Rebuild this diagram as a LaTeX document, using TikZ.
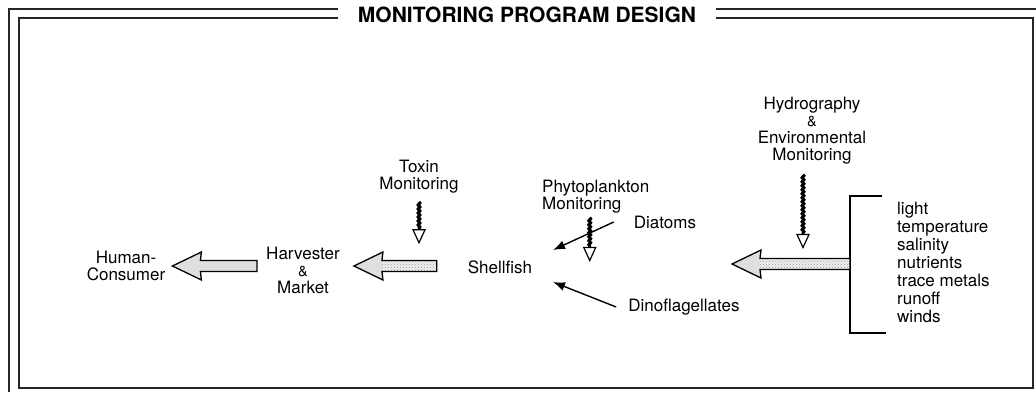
\documentclass[tikz,border=0pt]{standalone}
\usepackage{fontspec}
\setmainfont{TeX Gyre Heros}
\usetikzlibrary{arrows.meta,positioning,calc,decorations.pathmorphing,patterns}

\tikzset{
  lbl/.style={font=\fontsize{17}{17}\selectfont, align=center, inner sep=0pt},
  outerline/.style={line width=2pt, black!85},
  innerline/.style={line width=1.2pt, black!85},
  wiggle/.style={line width=3pt, decorate, decoration={snake, amplitude=0.9pt, segment length=4pt}},
  pointer/.style={line width=1.4pt, -{Latex[length=12pt,width=9pt]}},
  stipple/.style={preaction={fill=gray!12}, pattern=crosshatch dots, pattern color=gray!80},
  hollowhead/.pic={\draw[line width=1.2pt, fill=white, line join=miter] (-6,0) -- (6,0) -- (0,13) -- cycle;},
}
\newcommand{\amp}{{\fontsize{14.5}{14.5}\selectfont\&}}
% fat block arrow: #1 tip, #2 tail, #3 shaft fill
\newcommand{\fatarrow}[3]{%
  \path[#3] ($(#1)+(28,-5.5)$) rectangle ($(#2)+(0,5.5)$);
  \fill[gray!25] (#1) -- ++(29,-14) -- ++(-1,8.5) -- ++(0,11) -- ++(1,8.5) -- cycle;
  \draw[line width=1.3pt, line join=miter] (#1) -- ++(29,-14) -- ++(-1,8.5) -- ($(#2)+(0,-5.5)$)
    -- ($(#2)+(0,5.5)$) -- ($(#1)+(28,5.5)$) -- ++(1,8.5) -- cycle;
}

\begin{document}
\begin{tikzpicture}[x=1pt, y=-1pt]
    \useasboundingbox (0,0) rectangle (1036,392);

    % Frame and title
    \node[font=\fontsize{21}{21}\bfseries\selectfont, inner xsep=20pt, inner ysep=0pt] (title) at (527,15) {MONITORING PROGRAM DESIGN};
    \coordinate (otl) at (9,9);
    \coordinate (itl) at (19,18);
    \draw[outerline] (9,392) -- (otl) -- (title.west |- otl);
    \draw[outerline] (title.east |- otl) -- (1036,9);
    \draw[innerline] (title.west |- itl) -- (itl) -- (19,388) -- (1033,388) -- (1033,18) -- (title.east |- itl);

    % Labels
    \node[lbl] (human) at (126,266) {Human-\\Consumer};
    \node[lbl] (harvester) at (303,270) {Harvester\\\amp\\Market};
    \node[lbl] (toxin) at (419,177) {Toxin\\Monitoring};
    \node[lbl] (shellfish) at (500,267) {Shellfish};
    \node[lbl, align=left, anchor=north west] (phyto) at (542,180) {Phytoplankton\\Monitoring};
    \node[lbl] (diatoms) at (665,222) {Diatoms};
    \node[lbl] (dino) at (684,307) {Dinoflagellates};
    \node[lbl, anchor=north] (hydro) at (812,97) {Hydrography\\\amp\\Environmental\\Monitoring};
    \node[lbl, align=left, anchor=north west, font=\fontsize{17}{18}\selectfont] (factors) at (897,202)
        {light\\temperature\\salinity\\nutrients\\trace metals\\runoff\\winds};

    % Bracket
    \coordinate (btop) at (850,196);
    \coordinate (bbot) at (850,333);
    \coordinate (a3tail) at (850,264);
    \draw[line width=1.3pt] ($(btop)+(32,0)$) -- (btop) -- (bbot) -- ($(bbot)+(36,0)$);

    % Fat arrows
    \coordinate[right=7pt of human] (a1tip);
    \coordinate (a1tail) at ($(harvester.west |- a1tip)+(-9,0)$);
    \coordinate (a2tip) at ($(harvester.east |- a1tip)+(14,0)$);
    \coordinate (a2tail) at ($(shellfish.west |- a1tip)+(-31,0)$);
    \coordinate (a3tip) at (732,264);
    \fatarrow{a1tip}{a1tail}{fill=gray!25}
    \fatarrow{a2tip}{a2tail}{stipple}
    \fatarrow{a3tip}{a3tail}{stipple}

    % Monitoring inputs
    \coordinate (tox1) at ($(toxin.south)+(0,8)$);
    \coordinate (tox2) at ($(toxin.south)+(0,36)$);
    \draw[wiggle] (tox1) -- (tox2);
    \pic at (tox2) {hollowhead};

    \coordinate (phy1) at ($(phyto.south)+(-6,4)$);
    \coordinate (phy2) at ($(phyto.south)+(-6,34)$);
    \draw[wiggle] (phy1) -- (phy2);
    \pic at (phy2) {hollowhead};

    \coordinate (hyd1) at ($(hydro.south)+(-9,10)$);
    \coordinate (hyd2) at ($(hydro.south)+(-9,70)$);
    \draw[wiggle] (hyd1) -- (hyd2);
    \pic at (hyd2) {hollowhead};

    % Plankton to shellfish
    \coordinate (dtip) at (553,250);
    \coordinate (ftip) at (553,282);
    \draw[pointer] ([xshift=-20pt]diatoms.west) -- (dtip);
    \draw[pointer] ([xshift=-12pt]dino.west) -- (ftip);
\end{tikzpicture}
\end{document}
